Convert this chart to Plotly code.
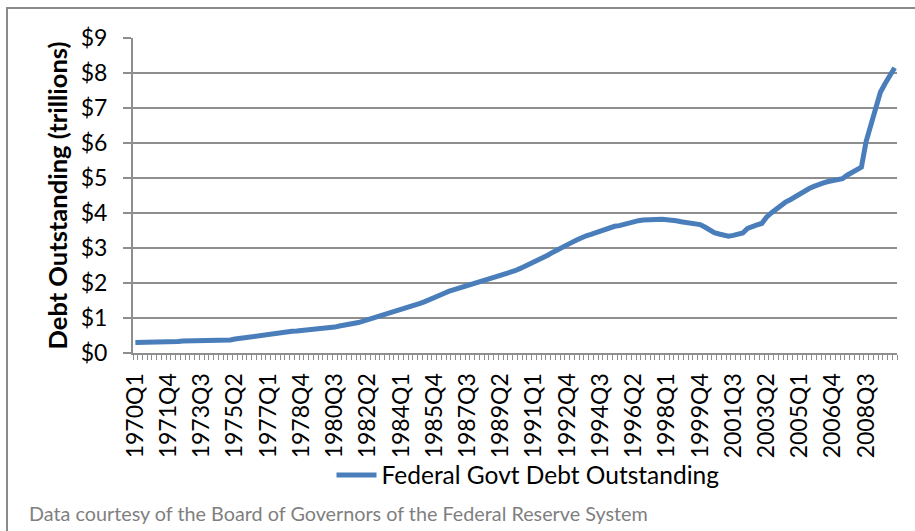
import plotly.graph_objects as go

# Quarterly categories 1970Q1 .. 2010Q1
years = list(range(1970, 2011))
quarters = [f"{y}Q{q}" for y in years for q in (1, 2, 3, 4)][:161]

# Federal Govt Debt Outstanding, trillions of dollars
debt = [
    0.30, 0.30, 0.31, 0.31, 0.31, 0.31, 0.32, 0.32, 0.33, 0.33,
    0.34, 0.34, 0.35, 0.35, 0.35, 0.35, 0.36, 0.36, 0.36, 0.37,
    0.37, 0.40, 0.42, 0.44, 0.47, 0.49, 0.51, 0.53, 0.55, 0.56,
    0.58, 0.59, 0.60, 0.62, 0.63, 0.64, 0.65, 0.66, 0.67, 0.69,
    0.70, 0.72, 0.74, 0.77, 0.79, 0.81, 0.84, 0.87, 0.91, 0.95,
    0.99, 1.03, 1.07, 1.11, 1.15, 1.19, 1.23, 1.28, 1.33, 1.37,
    1.42, 1.47, 1.52, 1.58, 1.64, 1.70, 1.76, 1.80, 1.84, 1.88,
    1.92, 1.96, 2.00, 2.04, 2.08, 2.12, 2.16, 2.20, 2.24, 2.29,
    2.35, 2.41, 2.47, 2.53, 2.60, 2.67, 2.74, 2.80, 2.88, 2.96,
    3.04, 3.10, 3.16, 3.23, 3.30, 3.35, 3.39, 3.44, 3.48, 3.52,
    3.56, 3.62, 3.64, 3.68, 3.73, 3.76, 3.78, 3.80, 3.81, 3.83,
    3.83, 3.82, 3.81, 3.81, 3.78, 3.75, 3.73, 3.71, 3.70, 3.67,
    3.60, 3.51, 3.44, 3.40, 3.37, 3.34, 3.36, 3.38, 3.43, 3.56,
    3.63, 3.66, 3.70, 3.88, 4.00, 4.11, 4.22, 4.31, 4.38, 4.47,
    4.54, 4.62, 4.70, 4.76, 4.82, 4.86, 4.90, 4.93, 4.95, 4.98,
    5.08, 5.15, 5.23, 5.31, 6.05, 6.50, 6.95, 7.45, 7.70, 7.90,
    8.15,
]

label_quarters = ["1970Q1", "1971Q4", "1973Q3", "1975Q2", "1977Q1", "1978Q4",
                  "1980Q3", "1982Q2", "1984Q1", "1985Q4", "1987Q3", "1989Q2",
                  "1991Q1", "1992Q4", "1994Q3", "1996Q2", "1998Q1", "1999Q4",
                  "2001Q3", "2003Q2", "2005Q1", "2006Q4", "2008Q3"]
y_ticks = [0, 1, 2, 3, 4, 5, 6, 7, 8, 9]
y_tick_text = [f"${v}" for v in y_ticks]

series_name = "Federal Govt Debt Outstanding"
y_title = "Debt Outstanding (trillions)"
footer = "Data courtesy of the Board of Governors of the Federal Reserve System"

FONT = "Lato"
GRID = "#8e8e8e"

xpos = list(range(len(quarters)))
tick_pos = [quarters.index(q) for q in label_quarters]

fig = go.Figure()
fig.add_trace(go.Scatter(
    x=xpos, y=debt, mode="lines", name=series_name,
    line=dict(color="#4a7ebb", width=5), customdata=quarters,
    hovertemplate="%{customdata}: $%{y}T<extra></extra>",
))

W, H = 915, 531
L, R, T, B = 133, 897, 38, 353
pw, ph = R - L, B - T

def px(x):
    return (x - L) / pw

def py(y):
    return (B - y) / ph

fig.update_layout(
    width=W, height=H,
    margin=dict(l=L, r=W - R, t=T, b=H - B, pad=0),
    paper_bgcolor="white", plot_bgcolor="white",
    font=dict(family=FONT, color="black"),
    showlegend=True,
    legend=dict(orientation="h", x=px(528), xanchor="center",
                y=py(475), yanchor="middle", font=dict(size=24.5, family=FONT),
                bgcolor="rgba(0,0,0,0)", itemwidth=40),
    xaxis=dict(
        range=[-0.5, len(quarters) - 0.5], tickmode="array",
        tickvals=tick_pos, ticktext=label_quarters, tickangle=-90,
        ticks="", showgrid=False, zeroline=False,
        showline=True, linecolor=GRID, linewidth=2,
        tickfont=dict(size=23, family=FONT, color="black"),
        ticklabelstandoff=9,
        minor=dict(ticks="outside", tick0=0.5, dtick=1, ticklen=5,
                   tickcolor=GRID, tickwidth=1, showgrid=False),
        fixedrange=True,
    ),
    yaxis=dict(
        range=[0, 9], tickmode="array", tickvals=y_ticks, ticktext=y_tick_text,
        ticks="outside", ticklen=8, tickcolor=GRID, tickwidth=2,
        showgrid=True, gridcolor=GRID, gridwidth=2, zeroline=False,
        showline=True, linecolor=GRID, linewidth=2,
        tickfont=dict(size=23, family=FONT, color="black"),
        ticklabelstandoff=11,
        title=dict(text="<b>" + y_title + "</b>", standoff=6,
                   font=dict(size=25.5, family=FONT, color="black")),
        fixedrange=True,
    ),
    shapes=[dict(type="rect", xref="paper", yref="paper",
                 x0=px(7), x1=px(930), y0=py(545), y1=py(8),
                 line=dict(color="#8a8a8a", width=2), fillcolor="rgba(0,0,0,0)",
                 layer="below")],
    annotations=[dict(text=footer, xref="paper", yref="paper",
                      x=px(27), xanchor="left", y=py(513), yanchor="middle",
                      showarrow=False,
                      font=dict(size=19.8, family=FONT, color="#7f7f7f"))],
)

fig.write_html("out.html")
